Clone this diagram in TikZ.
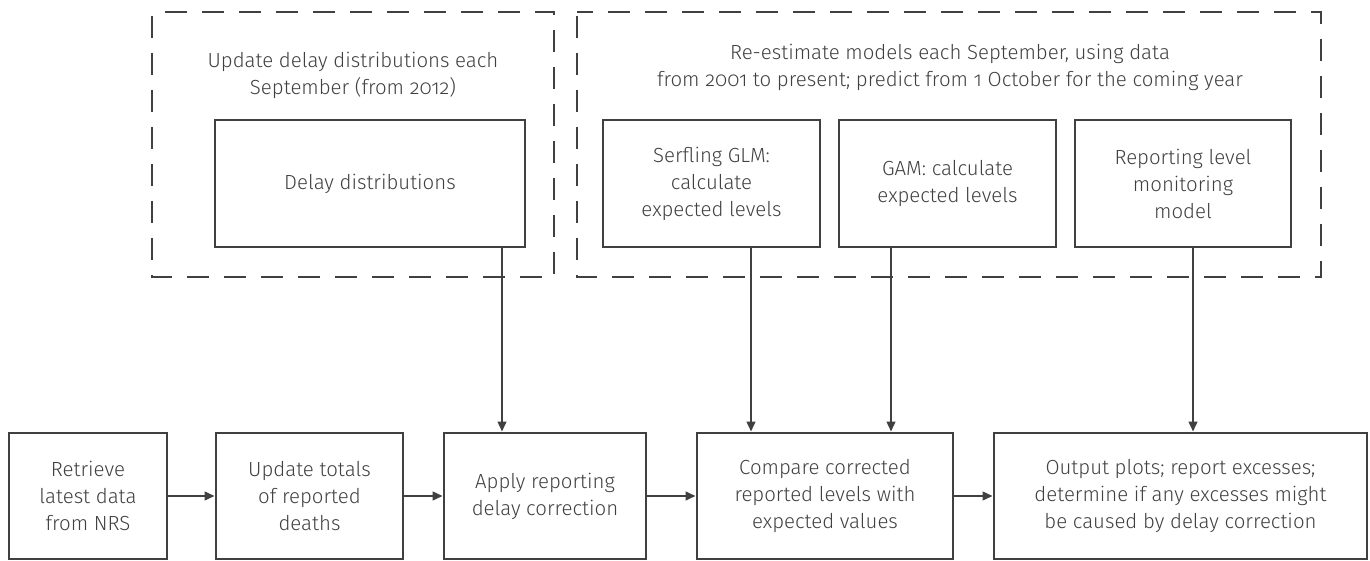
\documentclass[tikz,border=0pt]{standalone}
\usepackage{fontspec}
\setmainfont{Fira Sans}[UprightFont=* Light, RawFeature={+onum}]
\usepackage{xcolor}
\usetikzlibrary{positioning}
\usetikzlibrary{arrows.meta}
\definecolor{flowgray}{HTML}{404040}

\begin{document}
\begin{tikzpicture}[x=0.5pt,y=-0.5pt,
    every node/.style={text=flowgray, font=\fontsize{10.2}{13.5}\selectfont, align=center},
    stepbox/.style={draw=flowgray, line width=1.3pt, inner sep=0pt},
    groupbox/.style={draw=flowgray, line width=1.3pt, dash pattern=on 11pt off 7.5pt, dash phase=-2pt},
    flowarrow/.style={draw=flowgray, line width=1.3pt, -{Triangle[length=5pt,width=4.2pt]}}]
      \useasboundingbox (0,0) rectangle (1370,561);
      \draw[groupbox] (152,12) rectangle (554,277);
      \draw[groupbox] (577,12) rectangle (1321,277);
      \node (grouptitle1) at (353,75) {Update delay distributions each\\September (from 2012)};
      \node (grouptitle2) at (950,67) {Re-estimate models each September, using data\\from 2001 to present; predict from 1 October for the coming year};
      \node [stepbox, minimum width=155pt, minimum height=63.5pt] (delay) at (370,183.5) {Delay distributions};
      \node [stepbox, minimum width=108.5pt, minimum height=63.5pt] (serfling) at (711.5,183.5) {Serfling GLM:\\calculate\\expected levels};
      \node [stepbox, minimum width=108.5pt, minimum height=63.5pt] (gam) at (947.5,183.5) {GAM: calculate\\expected levels};
      \node [stepbox, minimum width=108pt, minimum height=63.5pt] (monitor) at (1183,183.5) {Reporting level\\monitoring\\model};
      \node [stepbox, minimum width=79pt, minimum height=63pt] (retrieve) at (88,496) {Retrieve\\latest data\\from NRS};
      \node [stepbox, minimum width=93.5pt, minimum height=63pt] (totals) at (309.5,496) {Update totals\\of reported\\deaths};
      \node [stepbox, minimum width=101pt, minimum height=63pt] (apply) at (545,496) {Apply reporting\\delay correction};
      \node [stepbox, minimum width=128pt, minimum height=63pt] (compare) at (825,496) {Compare corrected\\reported levels with\\expected values};
      \node [stepbox, minimum width=186.5pt, minimum height=63pt] (output) at (1180.5,496) {Output plots; report excesses;\\determine if any excesses might\\be caused by delay correction};
      \coordinate (xdelay) at (502,0);
      \coordinate (xserfling) at (751,0);
      \coordinate (xgam) at (891,0);
      \coordinate (xmonitor) at (1193,0);
      \draw[flowarrow] (retrieve) -- (totals);
      \draw[flowarrow] (totals) -- (apply);
      \draw[flowarrow] (apply) -- (compare);
      \draw[flowarrow] (compare) -- (output);
      \draw[flowarrow] (delay.south -| xdelay) -- (apply.north -| xdelay);
      \draw[flowarrow] (serfling.south -| xserfling) -- (compare.north -| xserfling);
      \draw[flowarrow] (gam.south -| xgam) -- (compare.north -| xgam);
      \draw[flowarrow] (monitor.south -| xmonitor) -- (output.north -| xmonitor);
\end{tikzpicture}
\end{document}
